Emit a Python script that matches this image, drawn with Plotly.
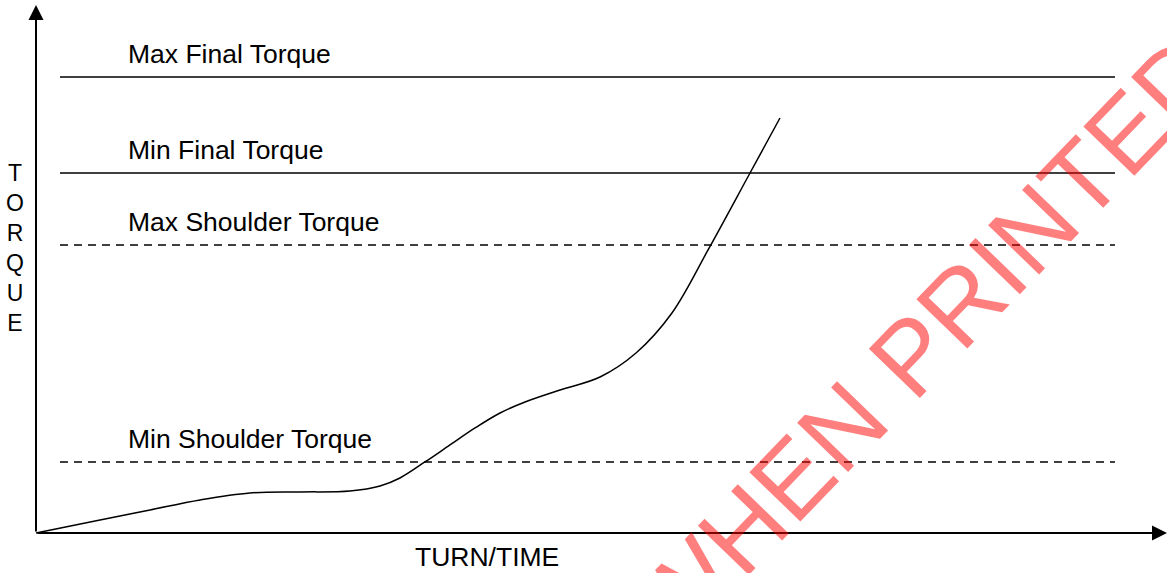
import plotly.graph_objects as go

# ---- data (arbitrary units: turn/time 0-100, torque 0-100) ----
curve_x = [0, 5.66, 10.08, 14.5, 18.92, 23.34, 27.76, 30.42, 32.18, 34.39, 36.6,
           38.82, 41.03, 43.24, 46.33, 49.87, 53.05, 56.23, 59.42, 63.13, 65.78]
curve_y = [0, 2.46, 4.36, 6.25, 7.58, 7.77, 7.95, 8.9, 10.42, 13.45, 16.67,
           19.89, 22.73, 24.81, 27.08, 29.55, 34.09, 41.67, 53.6, 68.18, 78.6]

limit_names = ["Max Final Torque", "Min Final Torque", "Max Shoulder Torque", "Min Shoulder Torque"]
limit_values = [86.36, 68.18, 54.55, 13.45]
limit_dash = ["solid", "solid", "dash", "dash"]
limit_x = [2.12, 95.4]

x_label = "TURN/TIME"
y_label = "TORQUE"
watermark = "WHEN PRINTED"

FONT = "Arial, Liberation Sans, sans-serif"

fig = go.Figure()

for name, val, d in zip(limit_names, limit_values, limit_dash):
    fig.add_trace(go.Scatter(
        x=limit_x, y=[val, val], mode="lines",
        line=dict(color="black", width=1.5, dash="8px,6px" if d == "dash" else "solid"),
        hoverinfo="skip", showlegend=False))
    fig.add_annotation(x=8.0, y=val, text=name, showarrow=False,
                       xanchor="left", yanchor="bottom", yshift=6,
                       font=dict(family=FONT, size=26.5, color="black"))

fig.add_trace(go.Scatter(x=curve_x, y=curve_y, mode="lines", line_shape="spline",
                         line=dict(color="black", width=1.5), showlegend=False,
                         hoverinfo="skip"))

# axes with arrows
fig.add_annotation(x=0, y=100, ax=0, ay=0, axref="x", ayref="y", xref="x", yref="y",
                   showarrow=True, arrowhead=2, arrowsize=1.5, arrowwidth=2,
                   arrowcolor="black", text="")
fig.add_annotation(x=100, y=0, ax=0, ay=0, axref="x", ayref="y", xref="x", yref="y",
                   showarrow=True, arrowhead=2, arrowsize=1.5, arrowwidth=2,
                   arrowcolor="black", text="")

fig.add_annotation(x=39.9, y=-4.55, text=x_label, showarrow=False,
                   xanchor="center", yanchor="middle",
                   font=dict(family=FONT, size=26.5, color="black"))
fig.add_annotation(x=-1.86, y=53.9, text="<br>".join(list(y_label)), showarrow=False,
                   xanchor="center", yanchor="middle",
                   font=dict(family=FONT, size=23, color="black"))

fig.add_annotation(xref="paper", yref="paper", x=0.7935, y=0.4049, text=watermark,
                   showarrow=False, textangle=-46, xanchor="center", yanchor="middle",
                   font=dict(family=FONT, size=103, color="rgba(255,0,0,0.5)"))

fig.update_layout(
    width=1167, height=573, margin=dict(l=0, r=0, t=0, b=0),
    paper_bgcolor="white", plot_bgcolor="white",
    xaxis=dict(visible=False, range=[-3.183, 100]),
    yaxis=dict(visible=False, range=[-7.576, 100.947]),
)

fig.write_html("out.html", config={"displayModeBar": False},
               post_script="document.body.style.margin='0';document.body.style.overflow='hidden';")
